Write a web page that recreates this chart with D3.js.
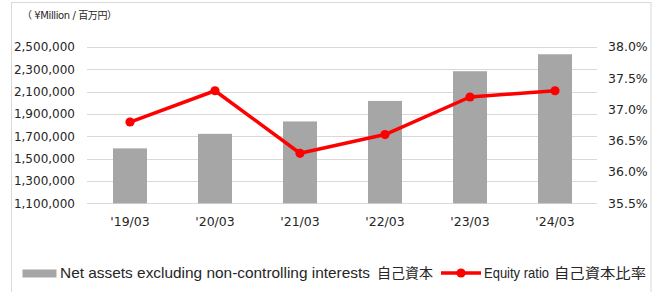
<!DOCTYPE html>
<html>
<head>
<meta charset="utf-8">
<script src="https://cdn.jsdelivr.net/npm/d3@7"></script>
<style>
  body { margin: 0; background: #fff; }
  svg { display: block; }
  text { font-family: "DejaVu Sans", Verdana, sans-serif; fill: #262626; }
  .leg { font-family: "Liberation Sans", Arial, "Noto Sans CJK JP", sans-serif; }
  .cjk { font-family: "Noto Sans CJK JP", sans-serif; }
</style>
</head>
<body>
<svg id="chart" width="658" height="292"></svg>
<script>
// data
var years = ["'19/03", "'20/03", "'21/03", "'22/03", "'23/03", "'24/03"]
var netAssets = [1592000, 1722000, 1833000, 2017000, 2283000, 2435000]
var equityRatio = [36.8, 37.3, 36.3, 36.6, 37.2, 37.3]
var leftTicks = [1100000, 1300000, 1500000, 1700000, 1900000, 2100000, 2300000, 2500000]
var rightTicks = [35.5, 36.0, 36.5, 37.0, 37.5, 38.0]

var svg = d3.select("#chart")

// frame
svg.append("rect")
    .attr("x", 11.5).attr("y", 2.5)
    .attr("width", 639.5).attr("height", 300)
    .attr("fill", "none")
    .attr("stroke", "#d9d9d9")

var x = d3.scaleBand()
    .domain(years)
    .range([87.5, 597.5])
    .paddingInner(0.6)
    .paddingOuter(0.3)

var yL = d3.scaleLinear().domain([1100000, 2500000]).range([203.3, 47])
var yR = d3.scaleLinear().domain([35.5, 38.0]).range([203.3, 47])

// grid
svg.append("g")
    .selectAll("line")
    .data(leftTicks)
    .enter().append("line")
    .attr("x1", 87).attr("x2", 597)
    .attr("y1", function(d) { return Math.round(yL(d)) + 0.5 })
    .attr("y2", function(d) { return Math.round(yL(d)) + 0.5 })
    .attr("stroke", "#d9d9d9")
    .attr("stroke-width", 1)

// left axis labels
var fmt = d3.format(",")
svg.append("g")
    .selectAll("text")
    .data(leftTicks)
    .enter().append("text")
    .attr("x", 75)
    .attr("y", function(d) { return yL(d) })
    .attr("dy", "0.35em")
    .attr("text-anchor", "end")
    .style("font-size", "12px")
    .text(function(d) { return fmt(d) })

// right axis labels
svg.append("g")
    .selectAll("text")
    .data(rightTicks)
    .enter().append("text")
    .attr("x", 608)
    .attr("y", function(d) { return yR(d) })
    .attr("dy", "0.35em")
    .attr("text-anchor", "start")
    .style("font-size", "12.5px")
    .text(function(d) { return d.toFixed(1) + "%" })

// x labels
svg.append("g")
    .selectAll("text")
    .data(years)
    .enter().append("text")
    .attr("x", function(d) { return x(d) + x.bandwidth() / 2 })
    .attr("y", 222)
    .attr("dy", "0.35em")
    .attr("text-anchor", "middle")
    .style("font-size", "12.5px")
    .text(function(d) { return d })

// bars
svg.append("g")
    .selectAll("rect")
    .data(netAssets)
    .enter().append("rect")
    .attr("x", function(d, i) { return x(years[i]) })
    .attr("width", x.bandwidth())
    .attr("y", function(d) { return yL(d) })
    .attr("height", function(d) { return yL(1100000) - yL(d) })
    .attr("fill", "#a6a6a6")

// line
var line = d3.line()
    .x(function(d, i) { return x(years[i]) + x.bandwidth() / 2 })
    .y(function(d) { return yR(d) })

svg.append("path")
    .datum(equityRatio)
    .attr("d", line)
    .attr("fill", "none")
    .attr("stroke", "#ff0000")
    .attr("stroke-width", 3.5)
    .attr("stroke-linejoin", "round")

svg.append("g")
    .selectAll("circle")
    .data(equityRatio)
    .enter().append("circle")
    .attr("cx", function(d, i) { return x(years[i]) + x.bandwidth() / 2 })
    .attr("cy", function(d) { return yR(d) })
    .attr("r", 4.6)
    .attr("fill", "#ff0000")

// unit title
svg.append("text")
    .attr("x", 22).attr("y", 15)
    .attr("dy", "0.35em")
    .attr("textLength", 95)
    .attr("lengthAdjust", "spacing")
    .style("font-size", "10px")
    .style("font-family", "'DejaVu Sans', 'Noto Sans CJK JP', sans-serif")
    .text("（ ¥Million / 百万円）")

// legend
var ly = 273
svg.append("rect")
    .attr("x", 22.5).attr("y", ly - 3.5)
    .attr("width", 34).attr("height", 8)
    .attr("fill", "#a6a6a6")
svg.append("text")
    .attr("class", "leg")
    .attr("x", 60).attr("y", ly)
    .attr("dy", "0.35em")
    .attr("textLength", 310)
    .attr("lengthAdjust", "spacingAndGlyphs")
    .style("font-size", "15px")
    .text("Net assets excluding non-controlling interests")
svg.append("text")
    .attr("class", "cjk")
    .attr("x", 377).attr("y", ly)
    .attr("dy", "0.35em")
    .attr("textLength", 56)
    .attr("lengthAdjust", "spacingAndGlyphs")
    .style("font-size", "14px")
    .text("自己資本")

svg.append("line")
    .attr("x1", 441).attr("x2", 481)
    .attr("y1", ly).attr("y2", ly)
    .attr("stroke", "#ff0000")
    .attr("stroke-width", 3.5)
svg.append("circle")
    .attr("cx", 461).attr("cy", ly).attr("r", 4.6)
    .attr("fill", "#ff0000")
svg.append("text")
    .attr("class", "leg")
    .attr("x", 484).attr("y", ly)
    .attr("dy", "0.35em")
    .attr("textLength", 65)
    .attr("lengthAdjust", "spacingAndGlyphs")
    .style("font-size", "15px")
    .text("Equity ratio")
svg.append("text")
    .attr("class", "cjk")
    .attr("x", 554).attr("y", ly)
    .attr("dy", "0.35em")
    .attr("textLength", 92)
    .attr("lengthAdjust", "spacingAndGlyphs")
    .style("font-size", "14px")
    .text("自己資本比率")
</script>
</body>
</html>
